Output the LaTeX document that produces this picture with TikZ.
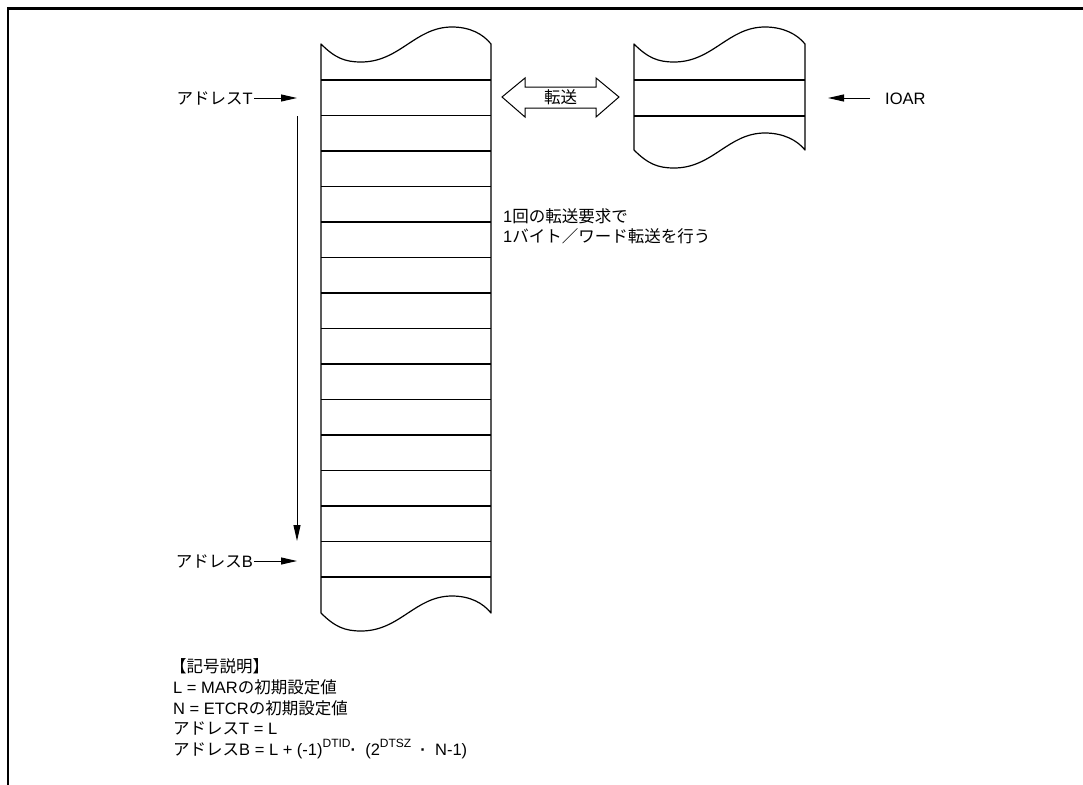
\documentclass[tikz,border=0pt]{standalone}
\usepackage{fontspec}
\setmainfont{Liberation Sans}
\newfontfamily\jpfont{Noto Sans CJK JP}
\newcommand\jp[1]{{\jpfont #1}}
\newcommand\sups[1]{\raisebox{7.5pt}{\fontsize{12}{12}\selectfont #1}}
\usetikzlibrary{arrows.meta}
\tikzset{
  mem/.style={line width=1.2pt, line join=round},
  rowline/.style={line width=1.1pt},
  arr/.style={line width=1pt, -{Triangle[length=16pt,width=7pt]}},
  lbl/.style={inner sep=0pt, font=\fontsize{16.5}{20}\selectfont},
  frameline/.style={line width=2.6pt}
}
\begin{document}
\begin{tikzpicture}[x=1pt,y=-1pt]
\useasboundingbox (0,0) rectangle (1083,784);
% frame
\draw[frameline] (8,800) -- (8,8.5) -- (1100,8.5);

% left memory column
\draw[mem] (321,44)
  .. controls +(14,14) and +(-16,0) .. ++(40,18)
  .. controls +(39,0) and +(-37,0) .. ++(91,-35)
  .. controls +(18,0) and +(-8,-10) .. ++(39,17)
  -- (491,613)
  .. controls +(-8,-10) and +(18,0) .. ++(-39,-17)
  .. controls +(-37,0) and +(39,0) .. ++(-91,35)
  .. controls +(-16,0) and +(14,14) .. ++(-40,-18)
  -- cycle;
\foreach \i in {0,...,14}
  \draw[rowline] (321,{80+35.5*\i}) -- (491,{80+35.5*\i});

% right block
\draw[mem] (634,44)
  .. controls +(14,14) and +(-16,0) .. ++(40,18)
  .. controls +(39,0) and +(-37,0) .. ++(91,-35)
  .. controls +(18,0) and +(-8,-10) .. ++(40,17)
  -- (805,150)
  .. controls +(-8,-10) and +(18,0) .. ++(-40,-17)
  .. controls +(-37,0) and +(39,0) .. ++(-91,35)
  .. controls +(-16,0) and +(14,14) .. ++(-40,-18)
  -- cycle;
\draw[rowline] (634,80) -- (805,80);
\draw[rowline] (634,116) -- (805,116);

% double arrow with label
\draw[line width=1pt, line join=miter] (502,97) -- (525,78) -- (525,87) -- (596,87) -- (596,78)
  -- (619,97) -- (596,117) -- (596,108) -- (525,108) -- (525,117) -- cycle;
\node[lbl, anchor=base] (xfer) at (560.5,103) {\jp{転送}};

% address T
\node[lbl, anchor=base east] (addrT) at (253,104) {\jp{アドレス}T};
\coordinate (addrTtip) at (297,98);
\draw[arr] (addrT.east |- addrTtip) ++(1,0) coordinate (addrTst) (addrTst) -- (addrTtip);

% address B
\node[lbl, anchor=base east] (addrB) at (253,567) {\jp{アドレス}B};
\coordinate (addrBtip) at (297,561);
\draw[arr] (addrB.east |- addrBtip) ++(1,0) coordinate (addrBst) (addrBst) -- (addrBtip);

% long vertical arrow
\coordinate (vtop) at (297,116);
\coordinate (vbot) at (297,541);
\draw[arr] (vtop) -- (vbot);

% IOAR
\node[lbl, anchor=base west] (ioar) at (885,104) {IOAR};
\coordinate (ioartip) at (828,98);
\coordinate (ioarst) at (870,98);
\draw[arr] (ioarst) -- (ioartip);

% transfer note
\node[lbl, anchor=base west] (note1) at (503,222) {1\jp{回の転送要求で}};
\node[lbl, anchor=base west] (note2) at (503,242) {1\jp{バイト／ワード転送を行う}};

% legend
\node[lbl, anchor=base west] (leg0) at (170,672) {\jp{【記号説明】}};
\node[lbl, anchor=base west] (leg1) at (173,693) {L = MAR\jp{の初期設定値}};
\node[lbl, anchor=base west] (leg2) at (173,714) {N = ETCR\jp{の初期設定値}};
\node[lbl, anchor=base west] (leg3) at (173,734) {\jp{アドレス}T = L};
\node[lbl, anchor=base west] (leg4) at (173,755) {\jp{アドレス}B = L + (-1)\sups{DTID}\textbf{·}\ \ (2\sups{DTSZ}\ \ \textbf{·}\ \ N-1)};
\end{tikzpicture}
\end{document}
